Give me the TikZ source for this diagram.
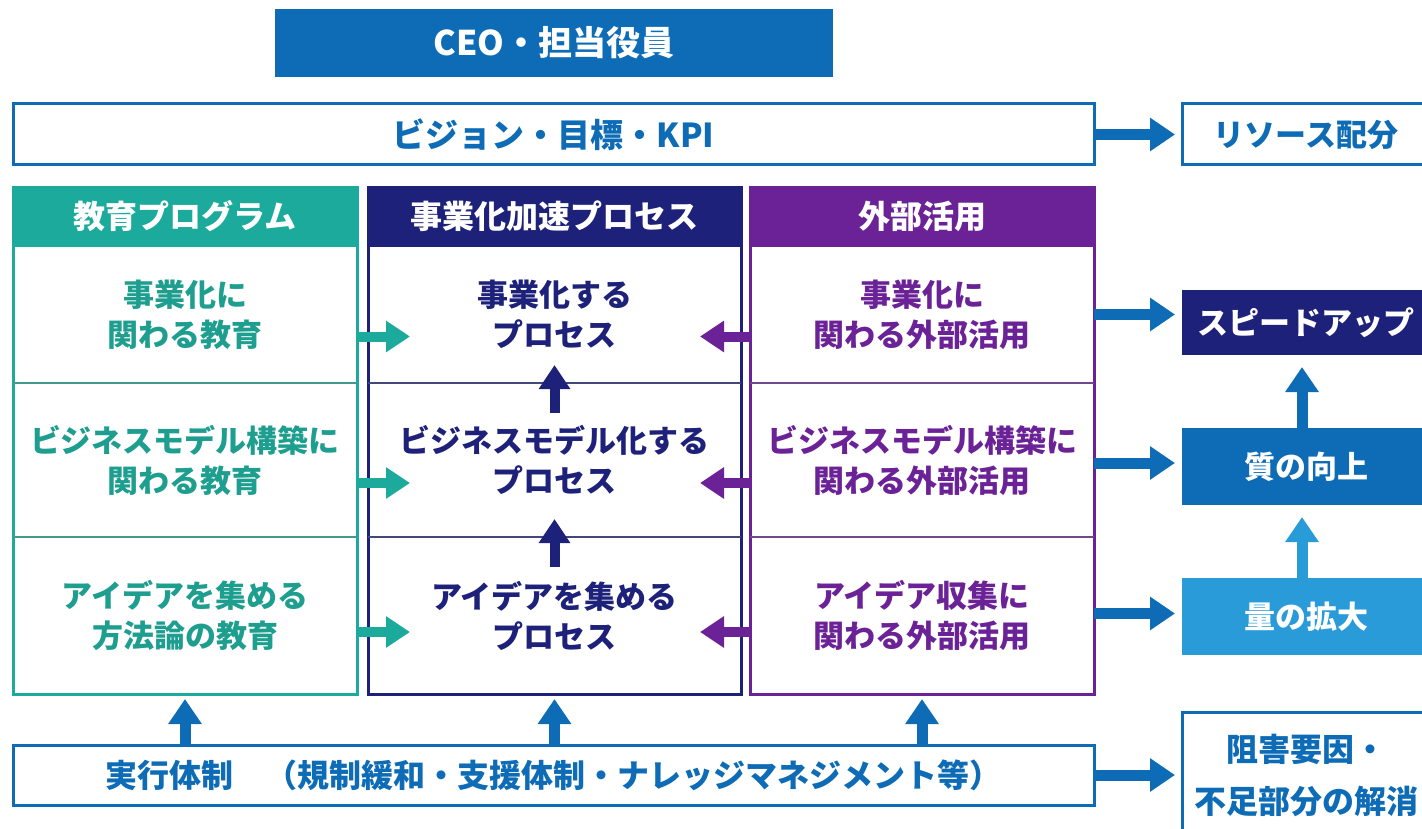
\documentclass[tikz,border=0pt]{standalone}
\usepackage{fontspec}
\setmainfont{Noto Sans CJK JP}
\usetikzlibrary{arrows.meta,calc}
\definecolor{cblue}{HTML}{0E6CB6}
\definecolor{cteal}{HTML}{1BAA9B}
\definecolor{ctealt}{HTML}{1E9E8F}
\definecolor{cnavy}{HTML}{1D2179}
\definecolor{cpurple}{HTML}{6B2296}
\definecolor{clight}{HTML}{2A9BD9}
\tikzset{
  base/.style={rectangle, inner sep=0pt, outer sep=0pt, align=center, font=\bfseries\fontsize{31}{40}\selectfont},
  filled/.style={base, fill=#1, text=white},
  framed/.style={base, draw=cblue, line width=3pt, text=cblue},
  cell/.style={base, text=#1},
  frame/.style={draw=#1, line width=3pt},
  divider/.style={draw=#1, line width=2pt},
  fat/.style={draw=#1, line width=10pt, -{Triangle[length=24pt,width=30pt]}},
  thick arrow/.style={draw=#1, line width=11pt, -{Triangle[length=25pt,width=32pt]}},
}
\begin{document}
\begin{tikzpicture}[x=1pt,y=-1pt]
\useasboundingbox (0,0) rectangle (1422,829);
\clip (0,0) rectangle (1422,829);
% top
\node[filled=cblue, minimum width=558pt, minimum height=68pt, font=\bfseries\fontsize{34}{40}\selectfont] (ceo) at (554,43) {CEO・担当役員};
\node[framed, minimum width=1081pt, minimum height=61pt, font=\bfseries\fontsize{33}{40}\selectfont] (vision) at (553.5,134.5) {ビジョン・目標・KPI};
\node[framed, minimum width=248pt, minimum height=61pt] (res) at (1306,134.5) {リソース配分};
% headers
\node[filled=cteal, minimum width=347pt, minimum height=60pt, font=\bfseries\fontsize{32}{40}\selectfont] (eh) at (185,216.5) {教育プログラム};
\node[filled=cnavy, minimum width=376pt, minimum height=60pt, font=\bfseries\fontsize{32}{40}\selectfont] (ph) at (554.5,216.5) {事業化加速プロセス};
\node[filled=cpurple, minimum width=347pt, minimum height=60pt, font=\bfseries\fontsize{32}{40}\selectfont] (xh) at (922,216.5) {外部活用};
% frames
\draw[frame=cteal] (13,246) rectangle (357,694);
\draw[frame=cnavy] (368,246) rectangle (741,694);
\draw[frame=cpurple] (750,246) rectangle (1094,694);
% cells
\node[cell=ctealt, minimum width=344pt, minimum height=137pt] (e1) at (185,314.5) {事業化に\\関わる教育};
\node[cell=ctealt, minimum width=344pt, minimum height=154pt] (e2) at (185,460) {ビジネスモデル構築に\\関わる教育};
\node[cell=ctealt, minimum width=344pt, minimum height=157pt] (e3) at (185,615.5) {アイデアを集める\\方法論の教育};
\node[cell=cnavy, minimum width=373pt, minimum height=137pt] (p1) at (554.5,314.5) {事業化する\\プロセス};
\node[cell=cnavy, minimum width=373pt, minimum height=154pt] (p2) at (554.5,460) {ビジネスモデル化する\\プロセス};
\node[cell=cnavy, minimum width=373pt, minimum height=157pt] (p3) at (554.5,615.5) {アイデアを集める\\プロセス};
\node[cell=cpurple, minimum width=344pt, minimum height=137pt] (x1) at (922,314.5) {事業化に\\関わる外部活用};
\node[cell=cpurple, minimum width=344pt, minimum height=154pt] (x2) at (922,460) {ビジネスモデル構築に\\関わる外部活用};
\node[cell=cpurple, minimum width=344pt, minimum height=157pt] (x3) at (922,615.5) {アイデア収集に\\関わる外部活用};
% dividers
\draw[divider=cteal!60!gray] (e1.south west) -- (e1.south east);
\draw[divider=cteal!60!gray] (e2.south west) -- (e2.south east);
\draw[divider=cnavy!60!gray] (p1.south west) -- (p1.south east);
\draw[divider=cnavy!60!gray] (p2.south west) -- (p2.south east);
\draw[divider=cpurple!60!gray] (x1.south west) -- (x1.south east);
\draw[divider=cpurple!60!gray] (x2.south west) -- (x2.south east);
% right column
\node[filled=cnavy, minimum width=248pt, minimum height=65pt] (sp) at (1306,322.5) {スピードアップ};
\node[filled=cblue, minimum width=248pt, minimum height=77pt] (q) at (1306,466.5) {質の向上};
\node[filled=clight, minimum width=248pt, minimum height=77pt] (v) at (1306,616.5) {量の拡大};
% bottom
\node[framed, minimum width=1081pt, minimum height=60pt, font=\bfseries\fontsize{32}{40}\selectfont] (impl) at (553.5,775) {実行体制　（規制緩和・支援体制・ナレッジマネジメント等）};
\node[framed, minimum width=248pt, minimum height=126pt, font=\bfseries\fontsize{32}{52}\selectfont] (obs) at (1306,775) {阻害要因・\\不足部分の解消};
% teal arrows
\draw[fat=cteal] ([yshift=-22pt]e1.east) -- ++(53,0);
\draw[fat=cteal] ([yshift=-23pt]e2.east) -- ++(53,0);
\draw[fat=cteal] ([yshift=-16.5pt]e3.east) -- ++(53,0);
% purple arrows
\draw[fat=cpurple] ([yshift=-22pt]x1.west) -- ++(-50,0);
\draw[fat=cpurple] ([yshift=-23pt]x2.west) -- ++(-50,0);
\draw[fat=cpurple] ([yshift=-16.5pt]x3.west) -- ++(-50,0);
% middle up arrows
\draw[fat=cnavy] ([yshift=-30pt]p2.north) -- ([yshift=18pt]p1.south);
\draw[fat=cnavy] ([yshift=-30pt]p3.north) -- ([yshift=18pt]p2.south);
% right arrows
\draw[thick arrow=cblue, shorten >=7pt] (vision.east) -- (vision.east -| res.west);
\draw[thick arrow=cblue, shorten >=7pt] (x1.east) -- (x1.east -| sp.west);
\draw[thick arrow=cblue, shorten >=7pt] ([yshift=-3pt]x2.east) -- ([yshift=-3pt]x2.east -| q.west);
\draw[thick arrow=cblue, shorten >=7pt] ([yshift=2pt]x3.east) -- ([yshift=2pt]x3.east -| v.west);
\draw[thick arrow=cblue, shorten >=7pt] (impl.east) -- (impl.east -| obs.west);
% right up arrows
\draw[thick arrow=cblue, shorten >=12pt] ([xshift=-4pt]q.north) -- ([xshift=-4pt]sp.south);
\draw[thick arrow=clight, shorten >=12pt] ([xshift=-4pt]v.north) -- ([xshift=-4pt]q.south);
% bottom up arrows
\draw[thick arrow=cblue, shorten >=5pt] (impl.north -| e3.south) -- (e3.south);
\draw[thick arrow=cblue, shorten >=5pt] (impl.north -| p3.south) -- (p3.south);
\draw[thick arrow=cblue, shorten >=5pt] (impl.north -| x3.south) -- (x3.south);
\end{tikzpicture}
\end{document}
